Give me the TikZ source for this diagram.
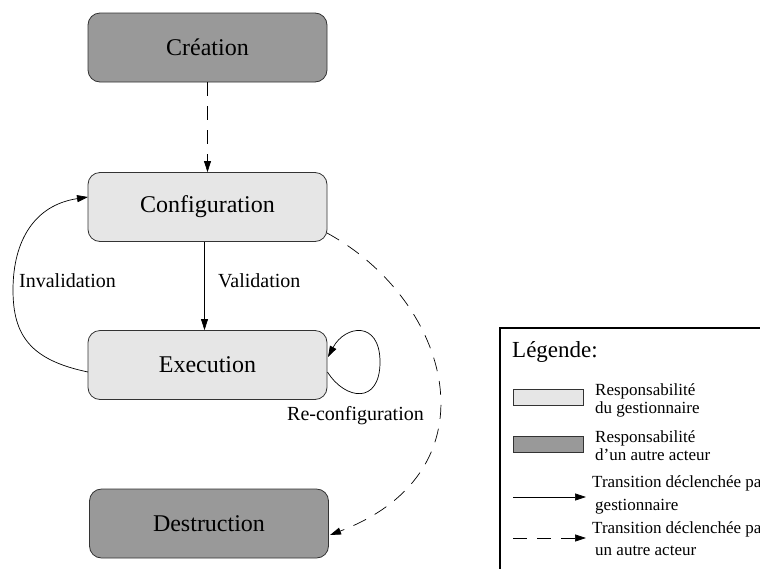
\documentclass[tikz,border=0pt]{standalone}
\usepackage{fontspec}
\setmainfont{Liberation Serif}
\usetikzlibrary{arrows.meta,calc}
\definecolor{lightfill}{HTML}{E6E6E6}
\definecolor{darkfill}{HTML}{999999}
\definecolor{boxline}{HTML}{333333}
\tikzset{
  state/.style={draw=boxline,line width=0.8pt,rounded corners=12pt,minimum width=239pt,minimum height=69pt,inner sep=0pt,font=\fontsize{24}{28}\selectfont},
  lightstate/.style={state,fill=lightfill},
  darkstate/.style={state,fill=darkfill},
  arr/.style={-{Stealth[length=11pt,width=7pt,inset=0pt]},line width=0.7pt},
  dasharr/.style={arr,dash pattern=on 14pt off 10pt},
  lbl/.style={anchor=base west,inner sep=0pt,font=\fontsize{20}{24}\selectfont},
  legtext/.style={anchor=base west,inner sep=0pt,font=\fontsize{17}{20}\selectfont},
  legbox/.style={draw=boxline,line width=0.8pt,minimum width=70pt,minimum height=16pt,inner sep=0pt},
}
\begin{document}
\begin{tikzpicture}[x=1pt,y=-1pt]
\useasboundingbox (0,0) rectangle (760,568);
\clip (0,0) rectangle (760,568);
\fill[white] (0,0) rectangle (760,568);

\node[darkstate] (crea) at (207.5,47.5) {Création};
\node[lightstate] (conf) at (207.5,207) {Configuration};
\node[lightstate] (exec) at (207.5,365) {Execution};
\node[darkstate] (dest) at (209,523.5) {Destruction};

\draw[dasharr] (crea.south) -- (conf.north);
\draw[arr] ([xshift=-3pt]conf.south) -- ([xshift=-3pt]exec.north);
\node[lbl] (val) at (218,287) {Validation};

\coordinate (invs) at (88,372);
\coordinate (inve) at (88,197);
\draw[arr] (invs) .. controls (30,360) and (13,335) .. (13,290) .. controls (13,240) and (35,205) .. (inve);
\node[lbl] (inval) at (19,287) {Invalidation};

\coordinate (loops) at (327.5,372);
\coordinate (loope) at (328,357);
\draw[arr] (loops) .. controls (345,400) and (380,405) .. (380,362) .. controls (380,320) and (345,325) .. (loope);
\node[lbl] (reconf) at (287,420) {Re-configuration};

\coordinate (ds) at (327,233);
\coordinate (de) at (330,535);
\draw[dasharr] (ds) .. controls (450,300) and (500,470) .. (de);

% legend
\draw[line width=1.8pt] (500,328) rectangle (775,580);
\node[anchor=base west,inner sep=0pt,font=\fontsize{23}{27}\selectfont] (legt) at (512,357) {Légende:};
\node[legbox,fill=lightfill] (leg1) at (548,397) {};
\node[legtext] (leg1a) at (595,395) {Responsabilité};
\node[legtext] (leg1b) at (595,413) {du gestionnaire};
\node[legbox,fill=darkfill] (leg2) at (548,444) {};
\node[legtext] (leg2a) at (595,442) {Responsabilité};
\node[legtext] (leg2b) at (595,460) {d'un autre acteur};
\coordinate (l3s) at (513,497);
\coordinate (l3e) at (586,497);
\draw[arr] (l3s) -- (l3e);
\node[legtext] (leg3a) at (592,487) {Transition déclenchée par le};
\node[legtext] (leg3b) at (595,510) {gestionnaire};
\coordinate (l4s) at (513,538);
\coordinate (l4e) at (586,538);
\draw[dasharr] (l4s) -- (l4e);
\node[legtext] (leg4a) at (592,533) {Transition déclenchée par};
\node[legtext] (leg4b) at (595,555) {un autre acteur};
\end{tikzpicture}
\end{document}
